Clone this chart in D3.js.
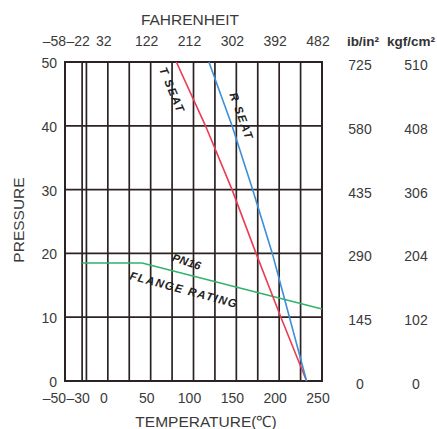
<!DOCTYPE html>
<html>
<head>
<meta charset="utf-8">
<script src="https://cdn.jsdelivr.net/npm/d3@7"></script>
<style>
  html, body { margin: 0; padding: 0; background: #fff; }
  svg { display: block; font-family: "Liberation Sans", Arial, sans-serif; }
</style>
</head>
<body>
<svg id="chart" width="437" height="429"></svg>
<script>
// ---- data ----
const celsiusTicks = [-50, -30, 0, 50, 100, 150, 200, 250];
const fahrenheitLabels = ["–58", "–22", "32", "122", "212", "302", "392", "482"];
const celsiusLabels = ["–50", "–30", "0", "50", "100", "150", "200", "250"];
const gridTemps = [-50, -30, -25, 0, 25, 50, 75, 100, 125, 150, 175, 200, 225, 250];
const pressureTicks = [0, 10, 20, 30, 40, 50];
const psiLabels = ["0", "145", "290", "435", "580", "725"];
const kgfLabels = ["0", "102", "204", "306", "408", "510"];

const tSeatT = [80, 114, 145, 173, 202, 232];
const tSeatP = [50, 40, 30, 20, 10, 0];
const rSeatT = [118, 145, 169, 192, 212, 232];
const rSeatP = [50, 40, 30, 20, 10, 0];
const flangeT = [-30, 40, 250];
const flangeP = [18.5, 18.5, 11.3];

const annotations = [
  { text: "T SEAT", t: 75, p: 45.6, angle: 67 },
  { text: "R SEAT", t: 156, p: 41.5, angle: 70 },
  { text: "PN16", t: 92, p: 18.7, angle: 18 },
  { text: "FLANGE RATING", t: 89, p: 14.3, angle: 15 }
];

// ---- chart ----
const svg = d3.select("#chart");
const x = d3.scaleLinear().domain([-50, 250]).range([65, 322]);
const y = d3.scaleLinear().domain([0, 50]).range([381, 62]);
const gridColor = "#2b2323";
const textColor = "#3a3a3a";

// grid
const grid = svg.append("g");
grid.selectAll("line.v").data(gridTemps).enter().append("line")
  .attr("x1", d => x(d)).attr("x2", d => x(d))
  .attr("y1", y(0)).attr("y2", y(50))
  .attr("stroke", gridColor).attr("stroke-width", 1.7);
grid.selectAll("line.h").data(pressureTicks).enter().append("line")
  .attr("x1", x(-50)).attr("x2", x(250))
  .attr("y1", d => y(d)).attr("y2", d => y(d))
  .attr("stroke", gridColor).attr("stroke-width", 1.7);
grid.append("rect")
  .attr("x", x(-50)).attr("y", y(50))
  .attr("width", x(250) - x(-50)).attr("height", y(0) - y(50))
  .attr("fill", "none").attr("stroke", gridColor).attr("stroke-width", 2);

// curves
const line = d3.line().x(d => x(d[0])).y(d => y(d[1]));
function drawSeries(ts, ps, color) {
  svg.append("path")
    .datum(ts.map((t, i) => [t, ps[i]]))
    .attr("d", line)
    .attr("fill", "none")
    .attr("stroke", color)
    .attr("stroke-width", 1.6);
}
drawSeries(flangeT, flangeP, "#2fb46a");
drawSeries(tSeatT, tSeatP, "#ec3b52");
drawSeries(rSeatT, rSeatP, "#3d8fd6");

// annotations
svg.selectAll("text.ann").data(annotations).enter().append("text")
  .attr("transform", d => `translate(${x(d.t)},${y(d.p)}) rotate(${d.angle})`)
  .attr("text-anchor", "middle")
  .attr("dy", "0.35em")
  .attr("font-size", 11.5)
  .attr("font-weight", "bold")
  .attr("font-style", "italic")
  .attr("letter-spacing", d => d.text === "PN16" ? 0.3 : 1.4)
  .attr("fill", "#222")
  .text(d => d.text);

// temperature tick labels: first one right-aligned to the frame edge, others centred
const labelShift = -4;
function tempLabels(labels, yPos) {
  svg.selectAll(null).data(celsiusTicks).enter().append("text")
    .attr("x", (d, i) => i === 0 ? x(d) + 1 : x(d) + labelShift)
    .attr("y", yPos)
    .attr("text-anchor", (d, i) => i === 0 ? "end" : "middle")
    .attr("font-size", 14)
    .attr("fill", textColor)
    .text((d, i) => labels[i]);
}
tempLabels(celsiusLabels, 403);
tempLabels(fahrenheitLabels, 46);

// left axis labels
svg.selectAll("text.yl").data(pressureTicks).enter().append("text")
  .attr("x", 57).attr("y", d => y(d) + 1)
  .attr("dy", "0.35em")
  .attr("text-anchor", "end").attr("font-size", 14)
  .attr("fill", textColor)
  .text(d => d);

// right columns
svg.selectAll("text.psi").data(pressureTicks).enter().append("text")
  .attr("x", 360).attr("y", d => y(d) + 3)
  .attr("dy", "0.35em")
  .attr("text-anchor", "middle").attr("font-size", 14)
  .attr("fill", textColor)
  .text((d, i) => psiLabels[i]);
svg.selectAll("text.kgf").data(pressureTicks).enter().append("text")
  .attr("x", 416).attr("y", d => y(d) + 3)
  .attr("dy", "0.35em")
  .attr("text-anchor", "middle").attr("font-size", 14)
  .attr("fill", textColor)
  .text((d, i) => kgfLabels[i]);

svg.append("text").attr("x", 363).attr("y", 46)
  .attr("text-anchor", "middle").attr("font-size", 13.5).attr("font-weight", "bold")
  .attr("fill", "#333").text("ib/in²");
svg.append("text").attr("x", 411).attr("y", 46)
  .attr("text-anchor", "middle").attr("font-size", 13.5).attr("font-weight", "bold")
  .attr("fill", "#333").text("kgf/cm²");

// titles
svg.append("text").attr("x", 190).attr("y", 25)
  .attr("text-anchor", "middle").attr("font-size", 15.5)
  .attr("fill", textColor).text("FAHRENHEIT");
svg.append("text").attr("x", 206).attr("y", 427)
  .attr("text-anchor", "middle").attr("font-size", 15.5)
  .attr("fill", textColor).text("TEMPERATURE(℃)");
svg.append("text")
  .attr("transform", "translate(24,220) rotate(-90)")
  .attr("text-anchor", "middle").attr("font-size", 15.5)
  .attr("fill", textColor).text("PRESSURE");
</script>
</body>
</html>
